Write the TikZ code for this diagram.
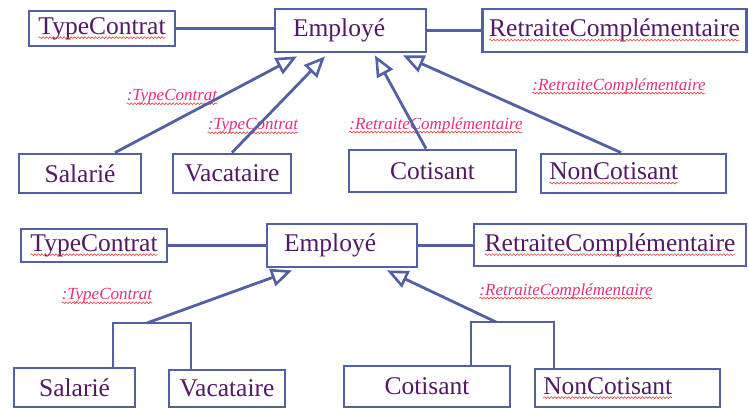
\documentclass[tikz,border=0pt]{standalone}
\usepackage{fontspec}
\setmainfont{Liberation Serif}
\usetikzlibrary{arrows.meta,decorations.pathmorphing}
\definecolor{boxblue}{HTML}{5360A4}
\definecolor{txtpurple}{HTML}{521A62}
\definecolor{lblpink}{HTML}{E6307A}
\definecolor{squigred}{HTML}{E8453C}
\tikzset{squig/.style={draw=squigred,line width=0.6pt,decorate,decoration={snake,amplitude=0.9pt,segment length=3.5pt}}}
\newcommand\wavy[1]{\tikz[baseline=(w.base)]{\node[inner sep=0pt,outer sep=0pt,minimum width=0pt,minimum height=0pt,text width={},draw=none,fill=none] (w) {#1};\draw[squig] ([yshift=-3.5pt]w.base west) -- ([yshift=-3.5pt]w.base east);}}
\newcommand\lblsq[1]{\draw[squig] ([yshift=-3pt]#1.base west) -- ([yshift=-3pt]#1.base east);}
\begin{document}
\begin{tikzpicture}[x=1pt,y=-1pt,
  box/.style={draw=boxblue,line width=2.8pt,fill=white,text=txtpurple,font=\fontsize{25.5}{28}\selectfont,inner sep=0pt,align=center},
  lbl/.style={text=lblpink,font=\itshape\fontsize{17}{19}\selectfont,inner sep=0pt},
  conn/.style={draw=boxblue,line width=2.8pt},
  gen/.style={conn,-{Triangle[open,length=21pt,width=18pt,line width=2.6pt]}}]
\useasboundingbox (0,0) rectangle (749,409);
% top diagram
\node[box,minimum width=146pt,minimum height=35pt] (tc1) at (102,28.5) {\wavy{TypeContrat}};
\node[box,minimum width=151pt,minimum height=43pt,text width=115pt,align=left,inner xsep=17pt] (emp1) at (350.5,30.5) {Employé};
\node[box,minimum width=264pt,minimum height=43pt] (rc1) at (614.5,30.5) {\wavy{RetraiteComplémentaire}};
\node[box,minimum width=122pt,minimum height=39pt] (sal1) at (80,173.5) {Salarié};
\node[box,minimum width=118pt,minimum height=39pt] (vac1) at (232,173.5) {Vacataire};
\node[box,minimum width=167pt,minimum height=42pt] (cot1) at (432.5,171) {Cotisant};
\node[box,minimum width=185pt,minimum height=39pt,text width=169pt,align=left,inner xsep=8pt] (non1) at (633.5,173.5) {\wavy{NonCotisant}};
% bottom diagram
\node[box,minimum width=146pt,minimum height=33pt] (tc2) at (94,245.5) {\wavy{TypeContrat}};
\node[box,minimum width=150pt,minimum height=43pt,text width=116pt,align=left,inner xsep=16pt] (emp2) at (342,245.5) {Employé};
\node[box,minimum width=272pt,minimum height=42pt] (rc2) at (610,245) {\wavy{RetraiteComplémentaire}};
\node[box,minimum width=121pt,minimum height=39pt] (sal2) at (74.5,387.5) {Salarié};
\node[box,minimum width=116pt,minimum height=37pt] (vac2) at (227,388.5) {Vacataire};
\node[box,minimum width=166pt,minimum height=41pt] (cot2) at (427,386.5) {Cotisant};
\node[box,minimum width=185pt,minimum height=38pt,text width=169pt,align=left,inner xsep=8pt] (non2) at (627.5,388) {\wavy{NonCotisant}};
% labels
\node[lbl] (l1) at (172,97) {:TypeContrat}; \lblsq{l1}
\node[lbl] (l2) at (253,126) {:TypeContrat}; \lblsq{l2}
\node[lbl] (l3) at (436,125) {:RetraiteComplémentaire}; \lblsq{l3}
\node[lbl] (l4) at (619,86) {:RetraiteComplémentaire}; \lblsq{l4}
\node[lbl] (l5) at (107,296) {:TypeContrat}; \lblsq{l5}
\node[lbl] (l6) at (566,291) {:RetraiteComplémentaire}; \lblsq{l6}
% associations
\draw[conn] (tc1.east) -- (tc1.east -| emp1.west);
\draw[conn] (emp1.east) -- (rc1.west);
\draw[conn] (tc2.east) -- (tc2.east -| emp2.west);
\draw[conn] (emp2.east) -- (emp2.east -| rc2.west);
% generalisations top
\draw[gen] ([xshift=35pt]sal1.north) -- ([xshift=-53.5pt,yshift=-3pt]emp1.south);
\draw[gen] (vac1.north) -- ([xshift=-25.5pt,yshift=-3pt]emp1.south);
\draw[gen] ([xshift=-6.5pt]cot1.north) -- ([xshift=24.5pt,yshift=-2pt]emp1.south);
\draw[gen] ([xshift=-12.5pt]non1.north) -- ([xshift=52.5pt,yshift=-2pt]emp1.south);
% generalisations bottom
\coordinate (j1) at (147,323);
\coordinate (j2) at (496,322);
\draw[conn] ([xshift=38.5pt]sal2.north) |- (j1) -| ([xshift=-36pt]vac2.north);
\draw[gen] (j1) -- ([xshift=-50pt,yshift=-2pt]emp2.south);
\draw[conn] ([xshift=44pt]cot2.north) |- (j2) -| ([xshift=-73.5pt]non2.north);
\draw[gen] (j2) -- ([xshift=45pt,yshift=-2pt]emp2.south);
\end{tikzpicture}
\end{document}
